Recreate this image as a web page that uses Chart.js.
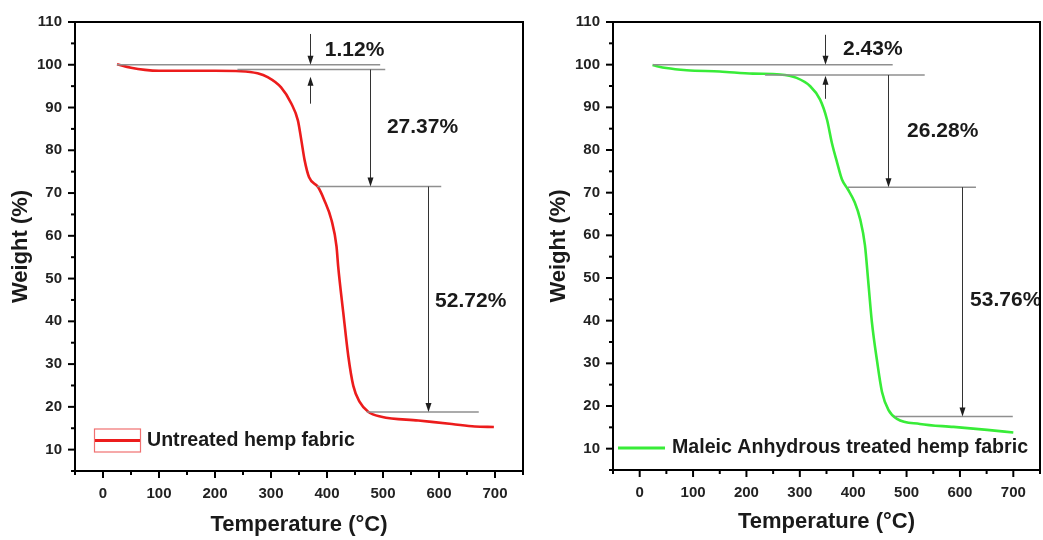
<!DOCTYPE html>
<html>
<head>
<meta charset="utf-8">
<title>TGA hemp fabric</title>
<script src="https://cdn.jsdelivr.net/npm/chart.js@4.4.1/dist/chart.umd.min.js"></script>
<style>
    html, body { margin: 0; padding: 0; background: #fff; overflow: hidden; }
    #wrap { position: relative; width: 1043px; height: 540px; overflow: hidden; }
    .box { position: absolute; top: 0; height: 540px; }
    /* latimile includ ~14px rezervati de Chart.js dupa ultimul tick (padding-ul etichetelor) */
    #boxU { left: 0; width: 537px; }
    #boxM { left: 520px; width: 534px; }
</style>
</head>
<body>
<div id="wrap">
    <div class="box" id="boxU"><canvas id="chartU"></canvas></div>
    <div class="box" id="boxM"><canvas id="chartM"></canvas></div>
</div>
<script>
// === Date ===============================================================
const tempUntreated = [25, 50, 75, 100, 150, 200, 246, 276, 294, 318, 336, 348, 354, 360, 368, 384, 395, 408, 417, 420, 429, 438, 447, 458, 474, 497, 563, 623, 664, 698];
const weightUntreated = [100.1, 99.3, 98.8, 98.6, 98.6, 98.6, 98.5, 98.0, 97.1, 94.7, 91.0, 87.0, 82.5, 77.7, 73.7, 71.4, 68.4, 63.7, 57.5, 52.8, 42.1, 31.9, 24.9, 21.2, 18.8, 17.7, 16.8, 16.0, 15.4, 15.3];

const tempMaleic = [24, 50, 88, 150, 212, 263, 294, 319, 338, 351, 360, 370, 379, 390, 403, 413, 422, 428, 435, 445, 454, 466, 482, 525, 588, 651, 700];
const weightMaleic = [99.9, 99.2, 98.7, 98.4, 97.9, 97.7, 96.9, 95.0, 91.8, 87.1, 81.7, 77.0, 73.1, 70.8, 67.7, 63.8, 57.7, 49.5, 39.7, 30.3, 23.3, 19.1, 17.0, 15.8, 15.1, 14.4, 13.8];

const labelUntreated = 'Untreated hemp fabric';
const labelMaleic = 'Maleic Anhydrous treated hemp fabric';

// axe: -50..750 (pas 50, eticheta la 100), 5..110 (pas 5, eticheta la 10)
const xRange = [-50, 750];
const yRange = [5, 110];

// linii de nivel: [T start, T sfarsit, greutate]
const levelsUntreated = [[25, 495, 100], [240, 504, 98.88], [382, 604, 71.51], [471, 671, 18.79]];
const levelsMaleic = [[25, 474, 100], [235, 534, 97.57], [390, 630, 71.29], [478, 699, 17.53]];

// sageti: [T, de la, pana la]
const arrowsUntreated = [[369, 107.2, 100], [369, 90.9, 97.2], [476, 98.88, 71.51], [580, 71.51, 18.79]];
const arrowsMaleic = [[347, 107.0, 100], [347, 92.0, 97.4], [465, 97.57, 71.29], [603, 71.29, 17.53]];

// pierderi de masa: [text, T, greutate]
const lossesUntreated = [['1.12%', 396, 103.3], ['27.37%', 507, 85.3], ['52.72%', 593, 44.6]];
const lossesMaleic = [['2.43%', 381, 103.6], ['26.28%', 501, 84.5], ['53.76%', 619, 44.9]];

const FONT = "'Liberation Sans', Arial, sans-serif";
Chart.defaults.font.family = FONT;

// Plugin: rama, tick-uri majore/minore, linii + sageti + procente, legenda
const tgaDecor = {
    id: 'tgaDecor',
    afterDatasetsDraw(chart, args, opts) {
        const { ctx, scales: { x, y } } = chart;
        ctx.save();

        ctx.strokeStyle = '#8f8f8f';
        ctx.lineWidth = 1.5;
        opts.levels.forEach(([t1, t2, v]) => {
            const py = y.getPixelForValue(v);
            ctx.beginPath();
            ctx.moveTo(x.getPixelForValue(t1), py);
            ctx.lineTo(x.getPixelForValue(t2), py);
            ctx.stroke();
        });

        ctx.strokeStyle = '#333';
        ctx.fillStyle = '#1e1e1e';
        ctx.lineWidth = 1;
        opts.arrows.forEach(([t, from, to]) => {
            const px = Math.round(x.getPixelForValue(t)) + 0.5;
            const p0 = y.getPixelForValue(from);
            const p1 = y.getPixelForValue(to);
            const dir = p1 > p0 ? 1 : -1;
            ctx.beginPath();
            ctx.moveTo(px, p0);
            ctx.lineTo(px, p1 - dir * 6);
            ctx.stroke();
            ctx.beginPath();
            ctx.moveTo(px, p1);
            ctx.lineTo(px - 3, p1 - dir * 9);
            ctx.lineTo(px + 3, p1 - dir * 9);
            ctx.closePath();
            ctx.fill();
        });

        ctx.font = 'bold 21px ' + FONT;
        ctx.fillStyle = '#1a1a1a';
        ctx.textAlign = 'left';
        ctx.textBaseline = 'middle';
        opts.losses.forEach(([txt, t, v]) => {
            ctx.fillText(txt, x.getPixelForValue(t), y.getPixelForValue(v));
        });
        ctx.restore();
    },
    afterDraw(chart, args, opts) {
        const { ctx, chartArea: a, scales: { x, y } } = chart;
        ctx.save();
        ctx.strokeStyle = '#000';
        ctx.lineWidth = 2;
        ctx.strokeRect(a.left, a.top, a.right - a.left, a.bottom - a.top);

        x.ticks.forEach((tk, i) => {
            const px = x.getPixelForTick(i);
            const len = tk.value % 100 === 0 ? 7 : 4;
            ctx.beginPath();
            ctx.moveTo(px, a.bottom);
            ctx.lineTo(px, a.bottom + len);
            ctx.stroke();
        });
        y.ticks.forEach((tk, i) => {
            const py = y.getPixelForTick(i);
            const len = tk.value % 10 === 0 ? 7 : 4;
            ctx.beginPath();
            ctx.moveTo(a.left, py);
            ctx.lineTo(a.left - len, py);
            ctx.stroke();
        });

        // legenda desenata in interiorul zonei de grafic
        const ds = chart.data.datasets[0];
        const lg = opts.legend;
        const lx = a.left + lg.dx;
        const ly = a.bottom + lg.dy;
        if (lg.box) {
            ctx.strokeStyle = '#f07070';
            ctx.lineWidth = 1.2;
            ctx.strokeRect(lx + 0.5, ly - 11.5, lg.width, 23);
        }
        ctx.strokeStyle = ds.borderColor;
        ctx.lineWidth = 3;
        ctx.beginPath();
        ctx.moveTo(lx + 1, ly);
        ctx.lineTo(lx + lg.width, ly);
        ctx.stroke();
        ctx.font = 'bold 19.6px ' + FONT;
        ctx.fillStyle = '#1a1a1a';
        ctx.textAlign = 'left';
        ctx.textBaseline = 'middle';
        ctx.fillText(ds.label, lx + lg.textGap, ly);
        ctx.restore();
    },
};

function tgaChart(canvasId, temps, weights, label, color, extra) {
    const points = temps.map((t, i) => ({ x: t, y: weights[i] }));
    return new Chart(document.getElementById(canvasId), {
        type: 'line',
        data: {
            datasets: [{
                label: label,
                data: points,
                borderColor: color,
                borderWidth: 2.6,
                pointRadius: 0,
                cubicInterpolationMode: 'monotone',
                fill: false,
            }],
        },
        options: {
            responsive: true,
            maintainAspectRatio: false,
            animation: false,
            layout: { padding: extra.padding },
            plugins: {
                legend: { display: false },
                tooltip: { enabled: false },
                tgaDecor: { levels: extra.levels, arrows: extra.arrows, losses: extra.losses, legend: extra.legend },
            },
            scales: {
                x: {
                    type: 'linear',
                    min: xRange[0],
                    max: xRange[1],
                    grid: { display: false, drawTicks: false },
                    border: { display: false },
                    ticks: {
                        stepSize: 50,
                        padding: 14,
                        color: '#222',
                        font: { size: 15, weight: 'bold' },
                        maxRotation: 0,
                        autoSkip: false,
                        callback: (v) => (v % 100 === 0 ? v : ''),
                    },
                    title: {
                        display: true,
                        text: 'Temperature (°C)',
                        color: '#1a1a1a',
                        font: { size: 22, weight: 'bold' },
                        padding: { top: 0, bottom: extra.xTitlePad },
                    },
                    afterFit: (scale) => { scale.height = extra.xHeight; },
                },
                y: {
                    min: yRange[0],
                    max: yRange[1],
                    grid: { display: false, drawTicks: false },
                    border: { display: false },
                    ticks: {
                        stepSize: 5,
                        padding: 13,
                        color: '#222',
                        font: { size: 15, weight: 'bold' },
                        autoSkip: false,
                        callback: (v) => (v % 10 === 0 ? v : ''),
                    },
                    title: {
                        display: true,
                        text: 'Weight (%)',
                        color: '#1a1a1a',
                        font: { size: 22, weight: 'bold' },
                        padding: { top: extra.yTitlePad, bottom: 0 },
                    },
                    afterFit: (scale) => { scale.width = extra.yWidth; },
                },
            },
        },
        plugins: [tgaDecor],
    });
}

tgaChart('chartU', tempUntreated, weightUntreated, labelUntreated, '#ec1c1c', {
    padding: { top: 21, right: 0, left: 0, bottom: 0 },
    xHeight: 69,
    yWidth: 75,
    xTitlePad: 2,
    yTitlePad: 8,
    levels: levelsUntreated,
    arrows: arrowsUntreated,
    losses: lossesUntreated,
    legend: { box: true, dx: 19, dy: -30.5, width: 46, textGap: 53 },
});

tgaChart('chartM', tempMaleic, weightMaleic, labelMaleic, '#38ec38', {
    padding: { top: 20, right: 0, left: 0, bottom: 0 },
    xHeight: 70,
    yWidth: 93,
    xTitlePad: 5,
    yTitlePad: 26,
    levels: levelsMaleic,
    arrows: arrowsMaleic,
    losses: lossesMaleic,
    legend: { box: false, dx: 4, dy: -22, width: 48, textGap: 55 },
});
</script>
</body>
</html>
